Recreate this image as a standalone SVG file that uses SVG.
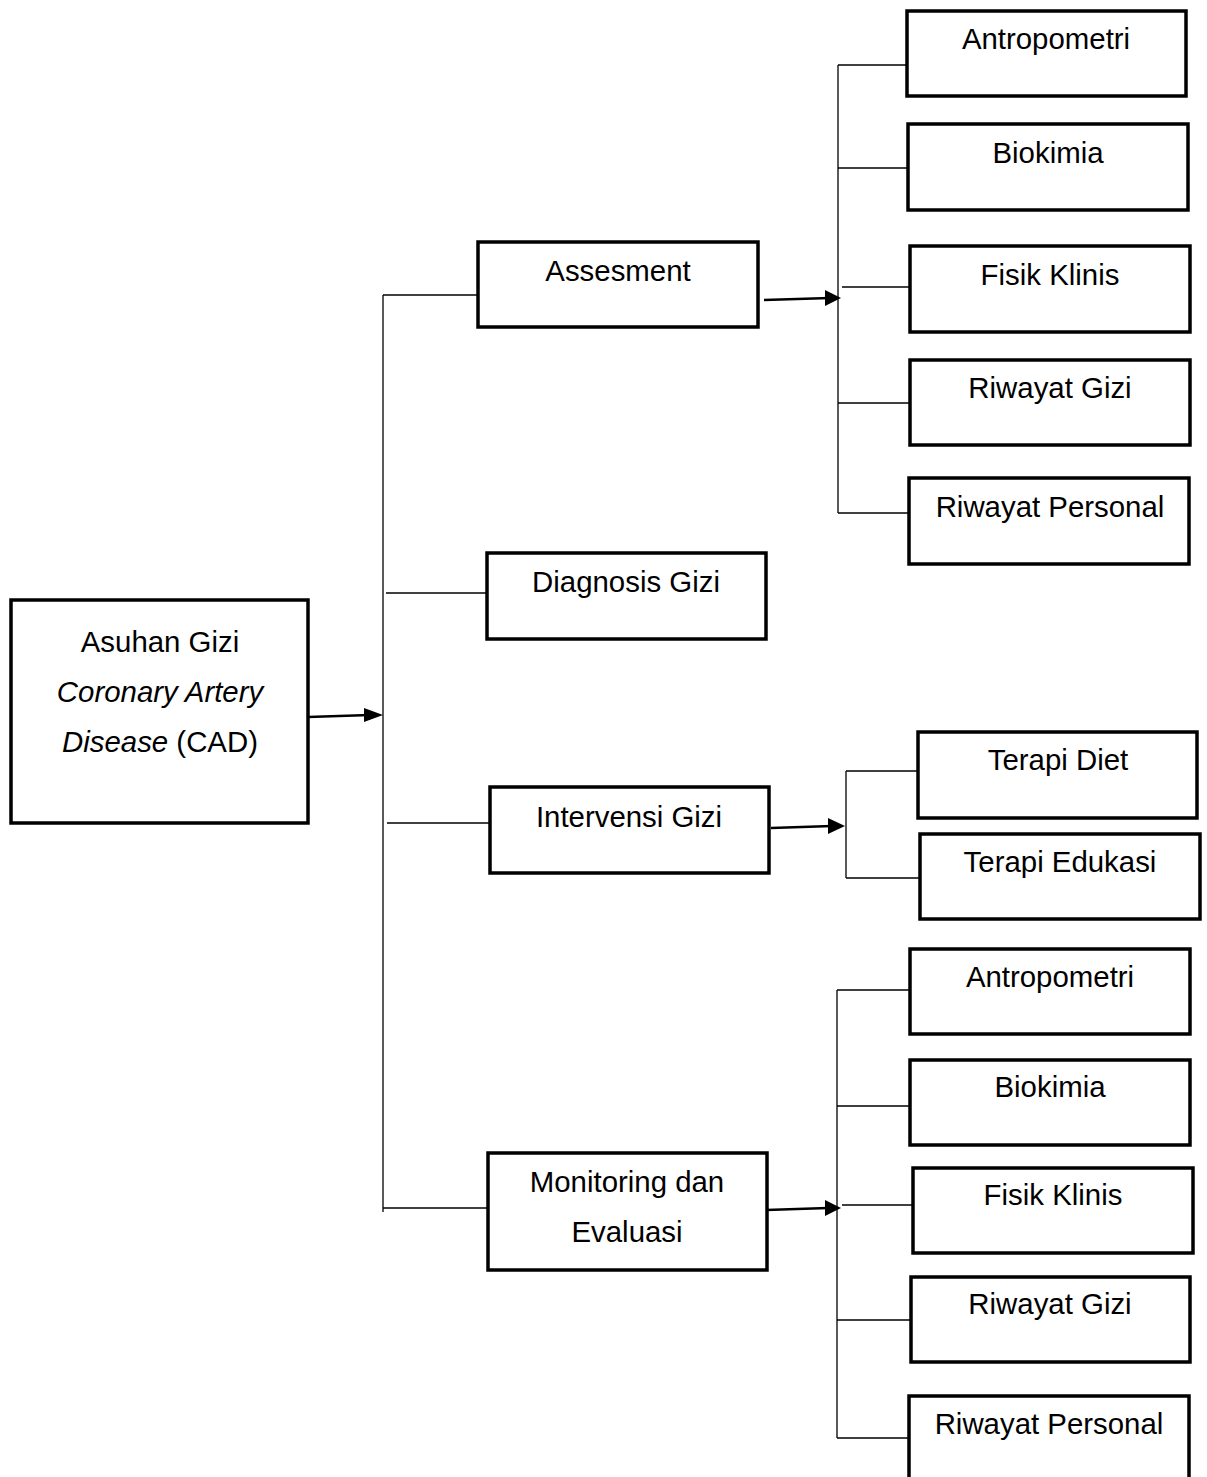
<svg xmlns="http://www.w3.org/2000/svg" width="1207" height="1477" viewBox="0 0 1207 1477">
<style>
.box{fill:#fff;stroke:#000;stroke-width:3.5}
.t{font-family:"Liberation Sans",Arial,sans-serif;font-size:29.4px;fill:#000;text-anchor:middle}
.ln{stroke:#000;stroke-width:1.3;fill:none}
.ar{stroke:#000;stroke-width:2.5;fill:none}
</style>
<rect width="1207" height="1477" fill="#fff"/>
<g id="connectors">
<line class="ar" x1="308" y1="717" x2="370" y2="715"/>
<path d="M364,708 L383,715 L364,722 z" fill="#000"/>
<line class="ln" x1="383" y1="295" x2="383" y2="1212"/>
<line class="ln" x1="383" y1="295" x2="478" y2="295"/>
<line class="ln" x1="386" y1="593" x2="487" y2="593"/>
<line class="ln" x1="387" y1="823" x2="490" y2="823"/>
<line class="ln" x1="383" y1="1208" x2="488" y2="1208"/>
<line class="ar" x1="764" y1="300" x2="830" y2="298"/>
<path d="M825,290 L841,298 L825,306 z" fill="#000"/>
<line class="ln" x1="838" y1="65" x2="838" y2="513"/>
<line class="ln" x1="838" y1="65" x2="907" y2="65"/>
<line class="ln" x1="838" y1="168" x2="908" y2="168"/>
<line class="ln" x1="842" y1="287" x2="910" y2="287"/>
<line class="ln" x1="838" y1="403" x2="910" y2="403"/>
<line class="ln" x1="838" y1="513" x2="909" y2="513"/>
<line class="ar" x1="771" y1="828" x2="832" y2="826"/>
<path d="M828,818 L845,826 L828,834 z" fill="#000"/>
<line class="ln" x1="846" y1="771" x2="846" y2="878"/>
<line class="ln" x1="846" y1="771" x2="918" y2="771"/>
<line class="ln" x1="846" y1="878" x2="920" y2="878"/>
<line class="ar" x1="766" y1="1210" x2="828" y2="1208"/>
<path d="M825,1200 L841,1208 L825,1216 z" fill="#000"/>
<line class="ln" x1="837" y1="990" x2="837" y2="1438"/>
<line class="ln" x1="837" y1="990" x2="910" y2="990"/>
<line class="ln" x1="837" y1="1106" x2="910" y2="1106"/>
<line class="ln" x1="842" y1="1205" x2="913" y2="1205"/>
<line class="ln" x1="837" y1="1320" x2="911" y2="1320"/>
<line class="ln" x1="837" y1="1438" x2="909" y2="1438"/>
</g>
<g id="main">
<rect class="box" x="11" y="600" width="297" height="223"/>
<text class="t" x="160" y="652">Asuhan Gizi</text>
<text class="t" x="160" y="702" font-style="italic">Coronary Artery</text>
<text class="t" x="160" y="752"><tspan font-style="italic">Disease</tspan> (CAD)</text>
</g>
<g id="assesment">
<rect class="box" x="478" y="242" width="280" height="85"/>
<text class="t" x="618" y="281">Assesment</text>
</g>
<g id="diagnosis">
<rect class="box" x="487" y="553" width="279" height="86"/>
<text class="t" x="626" y="592">Diagnosis Gizi</text>
</g>
<g id="intervensi">
<rect class="box" x="490" y="787" width="279" height="86"/>
<text class="t" x="629" y="827">Intervensi Gizi</text>
</g>
<g id="monitoring">
<rect class="box" x="488" y="1153" width="279" height="117"/>
<text class="t" x="627" y="1192">Monitoring dan</text>
<text class="t" x="627" y="1242">Evaluasi</text>
</g>
<g id="a-antropometri">
<rect class="box" x="907" y="11" width="279" height="85"/>
<text class="t" x="1046" y="49">Antropometri</text>
</g>
<g id="a-biokimia">
<rect class="box" x="908" y="124" width="280" height="86"/>
<text class="t" x="1048" y="163">Biokimia</text>
</g>
<g id="a-fisik">
<rect class="box" x="910" y="246" width="280" height="86"/>
<text class="t" x="1050" y="285">Fisik Klinis</text>
</g>
<g id="a-riwayatgizi">
<rect class="box" x="910" y="360" width="280" height="85"/>
<text class="t" x="1050" y="398">Riwayat Gizi</text>
</g>
<g id="a-riwayatpersonal">
<rect class="box" x="909" y="478" width="280" height="86"/>
<text class="t" x="1050" y="517">Riwayat Personal</text>
</g>
<g id="terapi-diet">
<rect class="box" x="918" y="732" width="279" height="86"/>
<text class="t" x="1058" y="770">Terapi Diet</text>
</g>
<g id="terapi-edukasi">
<rect class="box" x="920" y="834" width="280" height="85"/>
<text class="t" x="1060" y="872">Terapi Edukasi</text>
</g>
<g id="m-antropometri">
<rect class="box" x="910" y="949" width="280" height="85"/>
<text class="t" x="1050" y="987">Antropometri</text>
</g>
<g id="m-biokimia">
<rect class="box" x="910" y="1060" width="280" height="85"/>
<text class="t" x="1050" y="1097">Biokimia</text>
</g>
<g id="m-fisik">
<rect class="box" x="913" y="1168" width="280" height="85"/>
<text class="t" x="1053" y="1205">Fisik Klinis</text>
</g>
<g id="m-riwayatgizi">
<rect class="box" x="911" y="1277" width="279" height="85"/>
<text class="t" x="1050" y="1314">Riwayat Gizi</text>
</g>
<g id="m-riwayatpersonal">
<rect class="box" x="909" y="1396" width="280" height="100"/>
<text class="t" x="1049" y="1434">Riwayat Personal</text>
</g>
</svg>
